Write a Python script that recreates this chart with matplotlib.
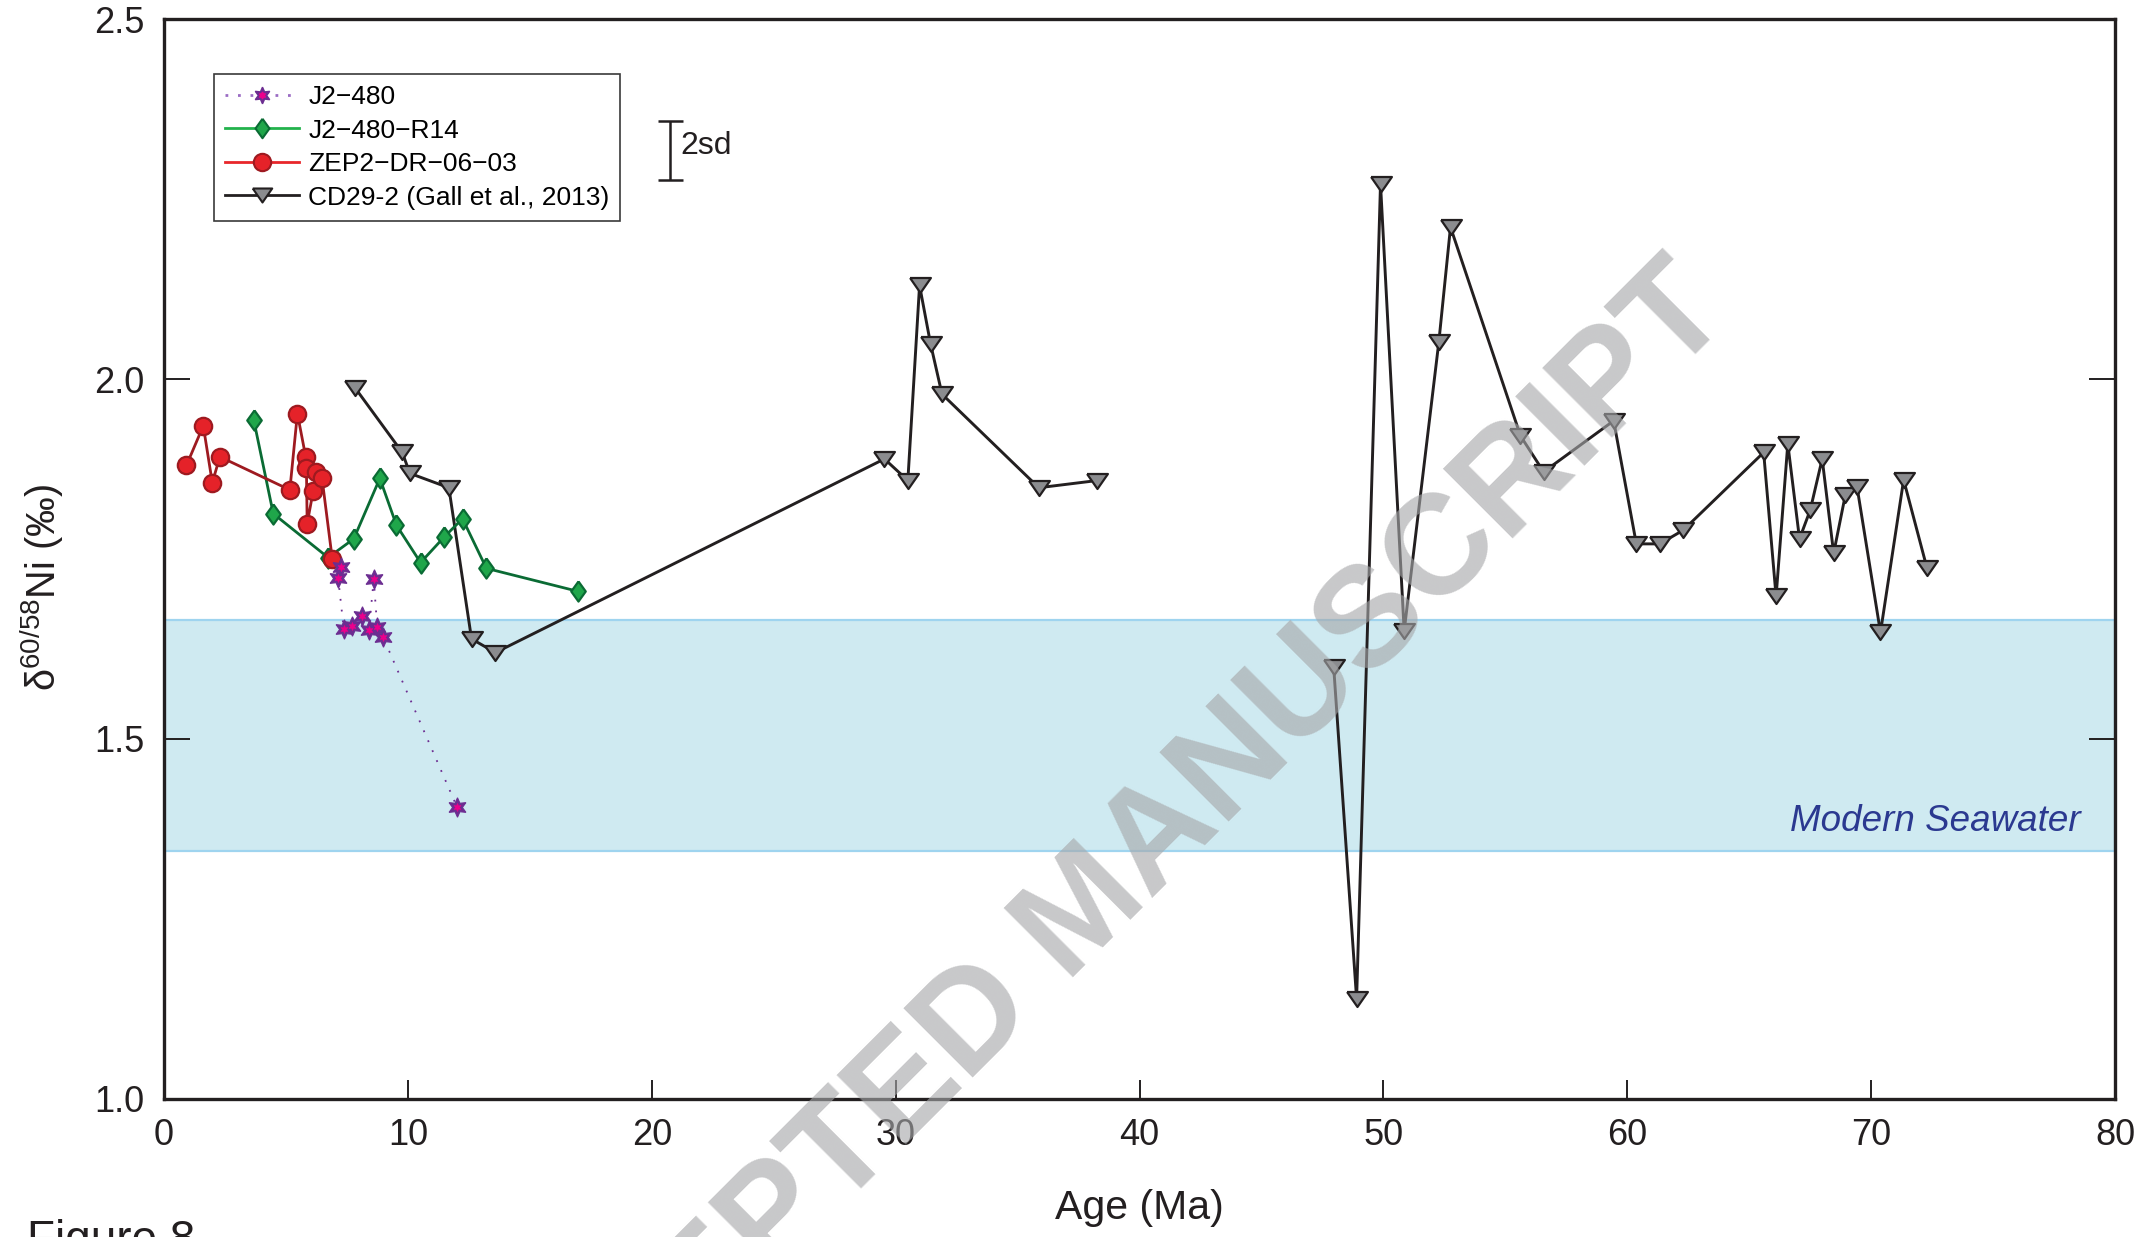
import numpy as np
import matplotlib
matplotlib.use("Agg")
import matplotlib.pyplot as plt
from matplotlib.lines import Line2D
from matplotlib.legend_handler import HandlerTuple

plt.rcParams['font.family'] = ['Liberation Sans', 'DejaVu Sans']
plt.rcParams['mathtext.fontset'] = 'custom'
plt.rcParams['mathtext.rm'] = 'Liberation Sans'
plt.rcParams['mathtext.it'] = 'Liberation Sans:italic'

# ---------------- data ----------------
red_age = [0.92, 1.61, 1.98, 2.29, 5.16, 5.47, 5.81, 5.84, 5.87, 6.12, 6.25, 6.48, 6.90]
red_val = [1.880, 1.935, 1.856, 1.892, 1.846, 1.952, 1.892, 1.876, 1.799, 1.845, 1.871, 1.862, 1.750]

green_age = [3.68, 4.48, 6.73, 7.78, 8.85, 9.53, 10.52, 11.50, 12.24, 13.22, 16.98]
green_val = [1.943, 1.813, 1.752, 1.778, 1.862, 1.797, 1.745, 1.781, 1.806, 1.737, 1.705]

purple_age = [7.26, 7.14, 7.37, 7.69, 8.12, 8.40, 8.60, 8.74, 8.99, 12.02]
purple_val = [1.739, 1.724, 1.653, 1.657, 1.671, 1.651, 1.722, 1.656, 1.641, 1.405]

black_age_a = [7.85, 9.77, 10.08, 11.68, 12.61, 13.59, 29.54, 30.50, 30.98, 31.43, 31.90, 35.87, 38.26]
black_val_a = [1.987, 1.898, 1.869, 1.849, 1.639, 1.620, 1.889, 1.859, 2.130, 2.049, 1.979, 1.849, 1.859]
black_age_b = [47.96, 48.90, 49.88, 50.85, 52.27, 52.75, 55.62, 56.57, 59.44, 60.37, 61.33, 62.29,
               65.59, 66.10, 66.58, 67.06, 67.50, 67.99, 68.46, 68.94, 69.42, 70.38, 71.33, 72.29]
black_val_b = [1.600, 1.139, 2.271, 1.650, 2.051, 2.211, 1.921, 1.871, 1.942, 1.771, 1.771, 1.790,
               1.898, 1.698, 1.910, 1.778, 1.818, 1.889, 1.758, 1.839, 1.850, 1.648, 1.860, 1.737]

seawater_band = (1.345, 1.665)
sd_center, sd_half = 2.318, 0.041
sd_age = 20.73

x_ticks = [0, 10, 20, 30, 40, 50, 60, 70, 80]
y_ticks = [1.0, 1.5, 2.0, 2.5]
series_labels = ['J2\u2212480', 'J2\u2212480\u2212R14', 'ZEP2\u2212DR\u221206\u221203', 'CD29-2 (Gall et al., 2013)']

# ---------------- styles ----------------
RED_F, RED_E, RED_L = '#e52229', '#9e1a20', '#e8262a'
GRN_F, GRN_E, GRN_L = '#1fa64a', '#0a6b34', '#22b24c'
PUR_F, PUR_C, PUR_L = '#6c2d91', '#ec008c', '#9b6cc4'
BLK, GRY = '#231f20', '#8b8c8f'

diamond = [(0, 1), (0.72, 0), (0, -1), (-0.72, 0), (0, 1)]
tri = [(-1, 0.72), (1, 0.72), (0, -0.72), (-1, 0.72)]
star6 = (6, 1, 0)

fig = plt.figure(figsize=(21.41, 12.37), dpi=100)
ax = fig.add_axes([0.0766, 0.1116, 0.9113, 0.8730])

ax.axhspan(*seawater_band, facecolor='#cfeaf1', edgecolor='#9fd4ef', lw=1.6, zorder=0)

# watermark
fig.text(0.507, 0.2616, 'ACCEPTED MANUSCRIPT', fontsize=102, fontweight='bold', color='#a6a7a9',
         alpha=0.62, rotation=45, ha='center', va='center', zorder=1.5)

# black CD29-2
for xa, va in ((black_age_a, black_val_a), (black_age_b, black_val_b)):
    ax.plot(xa, va, color=BLK, lw=2.1, zorder=3)
    ax.plot(xa, va, ls='none', marker=tri, ms=15, mfc=GRY, mec=BLK, mew=1.6, zorder=4)

# green
ax.plot(green_age, green_val, color=GRN_E, lw=2.0, zorder=3)
ax.plot(green_age, green_val, ls='none', marker=diamond, ms=14.5, mfc=GRN_F, mec=GRN_E, mew=1.6, zorder=4)

# red
ax.plot(red_age, red_val, color=RED_E, lw=2.0, zorder=3)
ax.plot(red_age, red_val, ls='none', marker='o', ms=12.5, mfc=RED_F, mec=RED_E, mew=1.6, zorder=4)

# purple
ax.plot(purple_age, purple_val, color=PUR_F, lw=1.3, ls=(0, (1, 5)), zorder=3)
ax.plot(purple_age, purple_val, ls='none', marker=star6, ms=14, mfc=PUR_F, mec=PUR_F, mew=0.8, zorder=5)
ax.plot(purple_age, purple_val, ls='none', marker=star6, ms=6, mfc=PUR_C, mec=PUR_C, mew=0.3, zorder=6)

# 2sd bar
ax.errorbar([sd_age], [sd_center], yerr=[sd_half], color=BLK, lw=1.8, capsize=9, capthick=1.8, fmt='none')
ax.text(sd_age + 0.45, sd_center + 0.005, '2sd', fontsize=23, color=BLK, ha='left', va='center')

ax.text(78.6, 1.386, 'Modern Seawater', fontsize=26.5, style='italic', color='#2b3990', ha='right', va='center')

ax.set_xlim(0, 80)
ax.set_ylim(1.0, 2.5)
ax.set_xticks(x_ticks)
ax.set_xticklabels([str(t) for t in x_ticks])
ax.set_yticks(y_ticks)
ax.set_yticklabels(['%.1f' % t for t in y_ticks])
ax.tick_params(axis='both', direction='in', labelsize=26, colors=BLK, width=1.4, length=14)
ax.tick_params(axis='y', right=True, pad=14, length=19)
ax.tick_params(axis='x', pad=14)
for s in ax.spines.values():
    s.set_color(BLK)
    s.set_linewidth(2.4)

ax.set_xlabel('Age (Ma)', fontsize=29.5, color=BLK)
ax.xaxis.set_label_coords(0.5, -0.083)
ax.set_ylabel(r'$\mathregular{\delta^{60/58}}$Ni (‰)', fontsize=28.5, color=BLK)
ax.yaxis.set_label_coords(-0.050, 0.474)

h_pur = (Line2D([], [], color=PUR_L, lw=2, ls=(0, (1, 3.5))),
         Line2D([], [], ls='none', marker=star6, ms=12, mfc=PUR_F, mec=PUR_F),
         Line2D([], [], ls='none', marker=star6, ms=5, mfc=PUR_C, mec=PUR_C))
h_grn = Line2D([], [], color=GRN_L, lw=2, marker=diamond, ms=14, mfc=GRN_F, mec=GRN_E, mew=1.5)
h_red = Line2D([], [], color=RED_L, lw=2, marker='o', ms=12.5, mfc=RED_F, mec=RED_E, mew=1.5)
h_blk = Line2D([], [], color=BLK, lw=2, marker=tri, ms=14, mfc=GRY, mec=BLK, mew=1.5)
leg = ax.legend([h_pur, h_grn, h_red, h_blk], series_labels,
                handler_map={tuple: HandlerTuple(ndivide=1, pad=0)},
                loc='upper left', bbox_to_anchor=(0.0256, 0.949), fontsize=19,
                frameon=True, fancybox=False, edgecolor='#3a3a3a', framealpha=1,
                handlelength=2.8, handletextpad=0.35, labelspacing=0.36, borderpad=0.42,
                borderaxespad=0)
leg.get_frame().set_linewidth(1.2)

fig.text(0.0126, 0.0146, 'Figure 8', fontsize=33, color=BLK, ha='left', va='top')

fig.savefig('out.png', dpi=100)
